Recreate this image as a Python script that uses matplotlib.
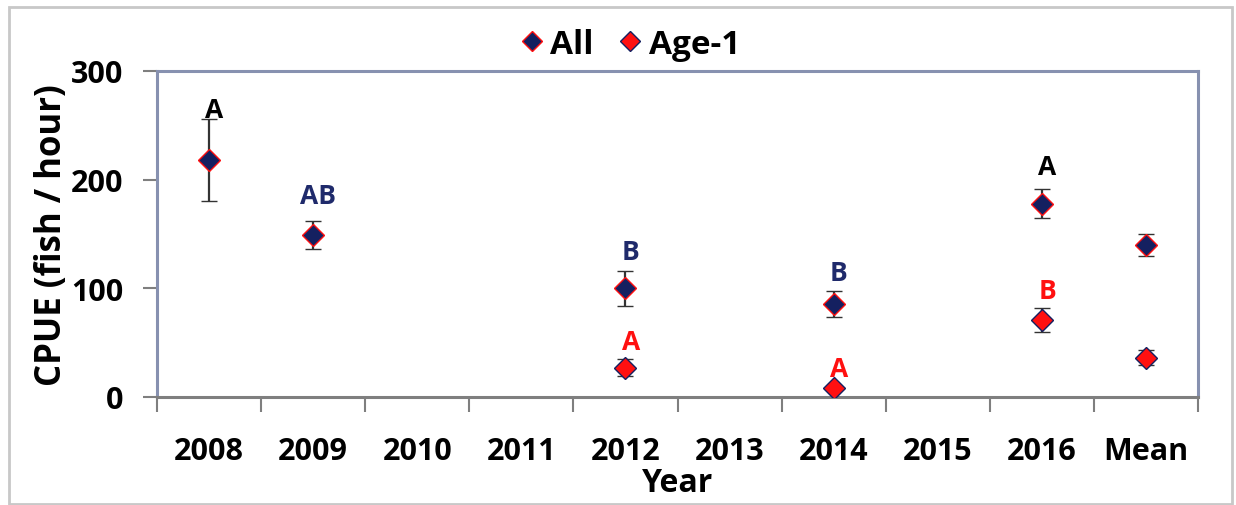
import numpy as np
import matplotlib
matplotlib.use("Agg")
import matplotlib.pyplot as plt
from matplotlib.patches import Rectangle
from matplotlib.lines import Line2D

plt.rcParams['font.family'] = ['Open Sans', 'DejaVu Sans']
plt.rcParams['font.weight'] = 'bold'

categories = ["2008", "2009", "2010", "2011", "2012", "2013", "2014", "2015", "2016", "Mean"]

# All fish
all_idx = [0, 1, 4, 6, 8, 9]
all_mean = [218, 149, 100, 86, 178, 140]
all_err = [38, 13, 16, 12, 13, 10]

# Age-1 fish
age1_idx = [4, 6, 8, 9]
age1_mean = [27, 8, 71, 36]
age1_err = [8, 0, 11, 7]

# significance letters
all_letters = ["A", "AB", "B", "B", "A"]
all_letter_idx = [0, 1, 4, 6, 8]
all_letter_y = [265, 185, 134, 115, 212]
all_letter_col = ["black", "#1f2a6b", "#1f2a6b", "#1f2a6b", "black"]
age1_letters = ["A", "A", "B"]
age1_letter_idx = [4, 6, 8]
age1_letter_y = [51, 26, 98]

navy = "#142060"
red = "#ff1010"
frame = "#8791b0"

fig = plt.figure(figsize=(12.36, 5.06), dpi=100)
ax = fig.add_axes([157 / 1236, 1 - 398 / 506, (1198 - 157) / 1236, (398 - 72) / 506])

x = np.arange(len(categories))

ax.errorbar([x[i] for i in all_idx], all_mean, yerr=all_err, fmt='D', ms=11,
            mfc=navy, mec=red, mew=1.0, ecolor='#333333', elinewidth=1.6,
            capsize=6, capthick=1.6, zorder=3)
ax.errorbar([x[i] for i in age1_idx], age1_mean, yerr=age1_err, fmt='D', ms=11,
            mfc=red, mec=navy, mew=1.0, ecolor='#333333', elinewidth=1.6,
            capsize=6, capthick=1.6, zorder=3)

for lab, i, y, c in zip(all_letters, all_letter_idx, all_letter_y, all_letter_col):
    ax.text(x[i] + 0.05, y, lab, color=c, fontsize=19, fontweight='bold',
            ha='center', va='center')
for lab, i, y in zip(age1_letters, age1_letter_idx, age1_letter_y):
    ax.text(x[i] + 0.05, y, lab, color=red, fontsize=19, fontweight='bold',
            ha='center', va='center')

ax.set_xlim(-0.5, len(categories) - 0.5)
ax.set_ylim(0, 300)
ax.set_yticks([0, 100, 200, 300])
ax.set_xticks(x)
ax.set_xticklabels(categories)
ax.set_xticks(np.arange(-0.5, len(categories)), minor=True)
ax.tick_params(axis='x', which='major', length=0, pad=28, labelsize=22)
ax.tick_params(axis='x', which='minor', length=11, width=1.5, color='#7f7f7f', direction='out')
ax.tick_params(axis='y', length=10, width=1.5, color='#7f7f7f', direction='out', pad=14, labelsize=22)

for s in ['left', 'top', 'right']:
    ax.spines[s].set_color(frame)
    ax.spines[s].set_linewidth(2.2)
ax.spines['bottom'].set_color('#7f7f7f')
ax.spines['bottom'].set_linewidth(2.2)

ax.set_xlabel("Year", fontsize=23, fontweight='bold', labelpad=0)
ax.set_ylabel("CPUE (fish / hour)", fontsize=25, fontweight='bold', labelpad=1)

handles = [
    Line2D([], [], ls='none', marker='D', ms=10, mfc=navy, mec=red, mew=1.0),
    Line2D([], [], ls='none', marker='D', ms=10, mfc=red, mec=navy, mew=1.0),
]
ax.legend(handles, ["All", "Age-1"], loc='lower center', bbox_to_anchor=(0.452, 0.99),
          ncol=2, frameon=False, fontsize=24, handletextpad=0.05, columnspacing=0.6,
          borderaxespad=0.0, handlelength=1.0)

fig.patches.append(Rectangle((9 / 1236, 1 / 506), 1223 / 1236, 497 / 506,
                             transform=fig.transFigure, fill=False,
                             edgecolor='#c8c8c8', linewidth=2))

fig.savefig("out.png", dpi=100, facecolor='white')
